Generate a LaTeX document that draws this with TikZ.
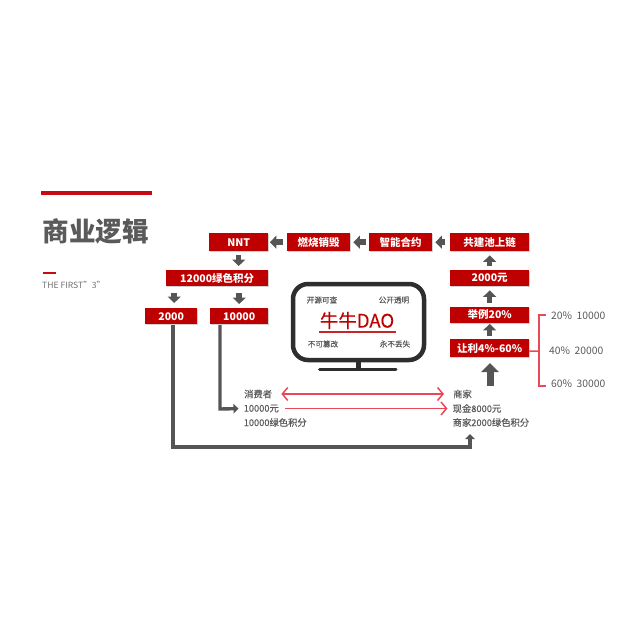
\documentclass[tikz,border=0pt]{standalone}
\usepackage{fontspec}
\setmainfont{Noto Sans CJK SC}
\newfontfamily\midfont[FakeBold=0.25]{Noto Sans CJK SC}
\usetikzlibrary{arrows.meta,shadows}
\definecolor{boxred}{HTML}{BE0000}
\definecolor{barred}{HTML}{C80A14}
\definecolor{pinkred}{HTML}{E8485A}
\definecolor{blkgray}{HTML}{555555}
\definecolor{txtgray}{HTML}{5A5A5A}
\tikzset{
 x=1pt,y=-1pt,
 redbox/.style={fill=boxred,text=white,font=\fontsize{10.5}{12}\selectfont\bfseries,inner sep=0pt,anchor=north west,
   drop shadow={shadow xshift=0.8pt,shadow yshift=-1.2pt,opacity=.18,fill=black}},
 blk/.style={draw=blkgray,line width=5.5pt,-{Triangle[length=6.5pt,width=13pt]}},
 elbow/.style={draw=blkgray,line width=3.4pt,-{Triangle[length=5pt,width=9.5pt]}},
 pinkline/.style={draw=pinkred,line width=1.5pt},
 pinkarrow/.style={pinkline,-{Straight Barb[length=5.5pt,width=13pt,line width=1.5pt]}},
 pinkdouble/.style={pinkline,{Straight Barb[length=5.5pt,width=13pt,line width=1.5pt]}-{Straight Barb[length=5.5pt,width=13pt,line width=1.5pt]}},
 small/.style={text=txtgray,font=\midfont\fontsize{7.6}{9}\selectfont,inner sep=0pt},
 label/.style={text=txtgray,font=\midfont\fontsize{9.3}{11}\selectfont,inner sep=0pt,anchor=west},
 pct/.style={text=txtgray,font=\fontsize{10.3}{12}\selectfont,inner sep=0pt,anchor=west},
}
\begin{document}
\begin{tikzpicture}
\useasboundingbox (0,0) rectangle (640,640);
\fill[white] (0,0) rectangle (640,640);
% header
\fill[barred] (41,190.5) rectangle (152,195);
\node[text=txtgray,font=\fontsize{26.6}{30}\selectfont\bfseries,inner sep=0pt,anchor=west] (title) at (42.5,231) {商业逻辑};
\fill[barred] (43,272) rectangle (56,274);
\node[text=txtgray!85,font=\fontsize{8.6}{10}\selectfont,inner sep=0pt,anchor=west] (sub) at (42,285) {THE FIRST"3"};
% boxes
\node[redbox,minimum width=59pt,minimum height=18pt] (nnt) at (209,233) {NNT};
\node[redbox,minimum width=63pt,minimum height=18pt] (burn) at (287,233) {燃烧销毁};
\node[redbox,minimum width=63pt,minimum height=18pt] (contract) at (369,233) {智能合约};
\node[redbox,minimum width=79pt,minimum height=18pt] (pool) at (450,233) {共建池上链};
\node[redbox,minimum width=102pt,minimum height=16pt] (points) at (166,270) {12000绿色积分};
\node[redbox,minimum width=52pt,minimum height=16pt] (two) at (145,308) {2000};
\node[redbox,minimum width=58pt,minimum height=16pt] (ten) at (210,308) {10000};
\node[redbox,minimum width=79pt,minimum height=16pt] (yuan) at (450,270) {2000元};
\node[redbox,minimum width=79pt,minimum height=16pt] (example) at (450,306.5) {举例20\%};
\node[redbox,minimum width=79pt,minimum height=18pt] (rebate) at (450,339) {让利4\%-60\%};
% block arrows
\draw[blk,shorten >=1.5pt,shorten <=4pt] (burn.west) -- (nnt.east);
\draw[blk,shorten >=3pt,shorten <=3pt] (contract.west) -- (burn.east);
\draw[blk,shorten >=3pt,shorten <=5pt] (pool.west) -- (contract.east);
\draw[blk,shorten >=4pt,shorten <=4pt] (yuan.north) -- (pool.south);
\draw[blk,shorten >=4pt,shorten <=4pt] (example.north) -- (yuan.south);
\draw[blk,shorten >=1pt,shorten <=3pt] (rebate.north) -- (example.south);
\draw[blk,shorten >=4pt,shorten <=4pt] (nnt.south) -- (nnt.south |- points.north);
\draw[blk,shorten >=4pt,shorten <=7pt] (points.south -| ten.north) -- (ten.north);
\coordinate (twotop) at ([xshift=3pt]two.north);
\draw[blk,shorten >=5pt,shorten <=7pt] (points.south -| twotop) -- (twotop);
% monitor
\draw[draw=black!82,line width=4.5pt,rounded corners=15pt,fill=white] (293,284) rectangle (424,360);
\fill[black!82] (356,362) rectangle (361,368);
\draw[black!82,line width=3pt,line cap=round] (319.5,369.5) -- (396,369.5);
\node[small] (a1) at (322,300) {开源可查};
\node[small] (a2) at (394,300) {公开透明};
\node[small] (a3) at (323,344) {不可篡改};
\node[small] (a4) at (395,344) {永不丢失};
\node[text=boxred,font=\midfont\fontsize{18.5}{21}\selectfont,inner sep=0pt] (dao) at (357,320.5) {牛牛DAO};
\draw[draw=boxred!85,line width=1.2pt] (319,332) -- (396,332);
% merchants and consumers
\node[label] (c1) at (244,394) {消费者};
\node[label] (c2) at (243.5,408.5) {10000元};
\node[label] (c3) at (243.5,422.5) {10000绿色积分};
\node[label] (m1) at (453,394) {商家};
\node[label] (m2) at (452.5,408.5) {现金8000元};
\node[label] (m3) at (452.5,422.5) {商家2000绿色积分};
\draw[pinkdouble] ([xshift=9pt]c1.east) -- ([xshift=-9pt]m1.west);
\draw[pinkarrow] ([xshift=6pt]c2.east) -- ([xshift=-5pt]m2.west);
% big arrow
\draw[draw=blkgray,line width=7pt,-{Triangle[length=9pt,width=17pt]},shorten <=-2pt,shorten >=6pt] (490,384) -- (490,357);
% elbows
\coordinate (tenout) at (220,325);
\coordinate (twoout) at (173,325);
\draw[elbow,shorten >=5pt] (tenout) -- (220,409) -- (c2.west);
\draw[elbow] (twoout) -- (173,447) -- (470,447) -- (470,434);
% bracket
\node[pct] (p1) at (551,316) {20\%\ \ 10000};
\node[pct] (p2) at (549,351) {40\%\ \ 20000};
\node[pct] (p3) at (551,384) {60\%\ \ 30000};
\draw[pinkline] (546,315) -- (539,315) -- (539,386) -- (546,386);
\draw[pinkline] ([yshift=-3pt]rebate.east) -- (539,351);
\end{tikzpicture}
\end{document}
